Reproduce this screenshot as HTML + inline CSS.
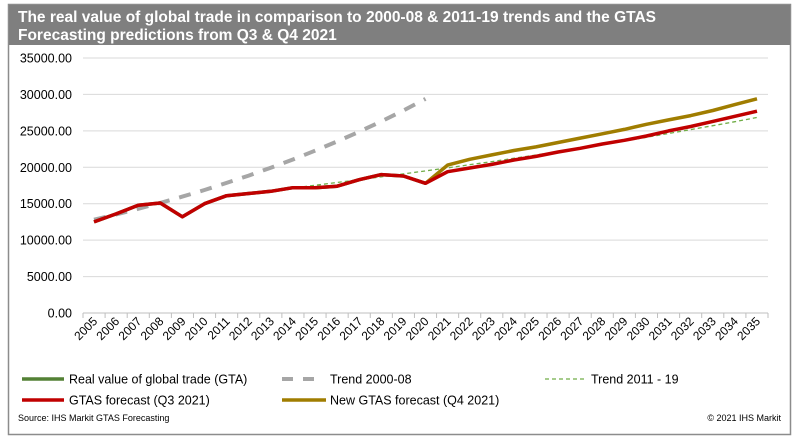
<!DOCTYPE html>
<html><head><meta charset="utf-8"><style>
body{margin:0;background:#fff;font-family:"Liberation Sans",Arial,sans-serif;}
#wrap{position:relative;width:801px;height:440px;overflow:hidden;background:#fff;}
</style></head><body>
<div id="wrap">
<svg id="svg" width="801" height="440" xmlns="http://www.w3.org/2000/svg">
<rect x="8.5" y="4.5" width="782" height="430" fill="#fff" stroke="#8c8c8c" stroke-width="1.5"/>
<rect x="9" y="5" width="781" height="40" fill="#7f7f7f"/>
<text x="18" y="22" font-size="15.5" font-weight="bold" fill="#fff">The real  value of global trade in comparison to 2000-08 &amp; 2011-19 trends and the GTAS</text>
<text x="18" y="40" font-size="15.5" font-weight="bold" fill="#fff">Forecasting predictions from Q3 &amp; Q4 2021</text>
<g id="grid"></g><g id="axes"></g><g id="series"></g>
<g font-size="12.5" fill="#000">
<line x1="22" y1="379" x2="64" y2="379" stroke="#538135" stroke-width="3.5"/>
<text x="69" y="383.5">Real value of global trade (GTA)</text>
<line x1="282" y1="379" x2="322" y2="379" stroke="#a6a6a6" stroke-width="4" stroke-dasharray="11,10"/>
<text x="330" y="383.5">Trend 2000-08</text>
<line x1="545" y1="379" x2="587" y2="379" stroke="#70ad47" stroke-width="1.3" stroke-dasharray="4,3"/>
<text x="591" y="383.5">Trend 2011 - 19</text>
<line x1="22" y1="400" x2="64" y2="400" stroke="#c00000" stroke-width="3.5"/>
<text x="69" y="404.5">GTAS forecast (Q3 2021)</text>
<line x1="282" y1="400" x2="326" y2="400" stroke="#a07d00" stroke-width="3.5"/>
<text x="330" y="404.5">New GTAS forecast (Q4 2021)</text>
</g>
<text x="18" y="421" font-size="9" fill="#000">Source: IHS Markit GTAS Forecasting</text>
<text x="781" y="421" font-size="9" fill="#000" text-anchor="end">© 2021 IHS Markit</text>
</svg></div>
<script>
const years=[2005,2006,2007,2008,2009,2010,2011,2012,2013,2014,2015,2016,2017,2018,2019,2020,2021,2022,2023,2024,2025,2026,2027,2028,2029,2030,2031,2032,2033,2034,2035];
const yTicks=[0,5000,10000,15000,20000,25000,30000,35000];
const gtaValues=[12500,13600,14800,15100,13200,15000,16100,16400,16700,17200,17200,17400,18300,19000,18800,17800];
const trend0008=[12800,13530,14300,15110,15970,16880,17850,18860,19940,21070,22270,23540,24890,26300,27800,29390];
const trend1119Start=6;
const trend1119=[16100,16450,16800,17160,17530,17910,18290,18690,19090,19500,19920,20350,20780,21230,21690,22150,22630,23120,23610,24120,24640,25170,25710,26260,26830];
const q3Values=[12500,13600,14800,15100,13200,15000,16100,16400,16700,17200,17200,17400,18300,19000,18800,17800,19400,19900,20400,21000,21500,22100,22600,23200,23700,24300,25000,25600,26300,27000,27700];
const q4Start=15;
const q4Values=[17800,20300,21100,21700,22300,22800,23400,24000,24600,25200,25900,26500,27100,27800,28600,29400];

const NS="http://www.w3.org/2000/svg";
const X0=83,X1=768,Y0=313,Y1=58,YMAX=35000;
const step=(X1-X0)/years.length;
const xs=i=>X0+step*(i+0.5);
const ys=v=>Y0-(v/YMAX)*(Y0-Y1);
function mk(tag,attrs,parent){const e=document.createElementNS(NS,tag);for(const k in attrs)e.setAttribute(k,attrs[k]);parent.appendChild(e);return e;}
const grid=document.getElementById('grid'),axes=document.getElementById('axes'),ser=document.getElementById('series');
yTicks.forEach(t=>{
  const l=mk('line',{x1:X0,x2:X1,y1:ys(t),y2:ys(t),stroke:t===0?'#bfbfbf':'#d9d9d9','stroke-width':1},grid);
  
  
  const tx=mk('text',{x:72,y:ys(t)+4.5,'text-anchor':'end','font-size':'12.5',fill:'#000'},axes);
  tx.textContent=t.toFixed(2);
  
  
});
years.forEach((yr,i)=>{
  const tk=mk('line',{x1:X0+step*i,x2:X0+step*i,y1:Y0,y2:Y0+5,stroke:'#bfbfbf'},axes);
  
  
  const cx=xs(i)+4,cy=Y0+9;
  const tx=mk('text',{x:cx,y:cy,'text-anchor':'end','font-size':'12',fill:'#000',transform:`rotate(-45 ${cx} ${cy})`},axes);
  tx.textContent=yr;
  
  
});
const tk=mk('line',{x1:X1,x2:X1,y1:Y0,y2:Y0+5,stroke:'#bfbfbf'},axes);


function line(vals,start,attrs,name){
  const pts=vals.map((v,i)=>xs(i+start).toFixed(1)+','+ys(v).toFixed(1)).join(' ');
  const p=mk('polyline',Object.assign({points:pts,fill:'none','stroke-linejoin':'round'},attrs),ser);
  
  
}
line(trend0008,0,{stroke:'#a6a6a6','stroke-width':4,'stroke-dasharray':'12,10'},'trend-2000-08-line');
line(gtaValues,0,{stroke:'#538135','stroke-width':3.5},'gta-line');
line(trend1119,trend1119Start,{stroke:'#70ad47','stroke-width':1.3,'stroke-dasharray':'4,3'},'trend-2011-19-line');
line(q4Values,q4Start,{stroke:'#a07d00','stroke-width':3.5},'q4-forecast-line');
line(q3Values,0,{stroke:'#c00000','stroke-width':3.5},'q3-forecast-line');
</script>
</body></html>
